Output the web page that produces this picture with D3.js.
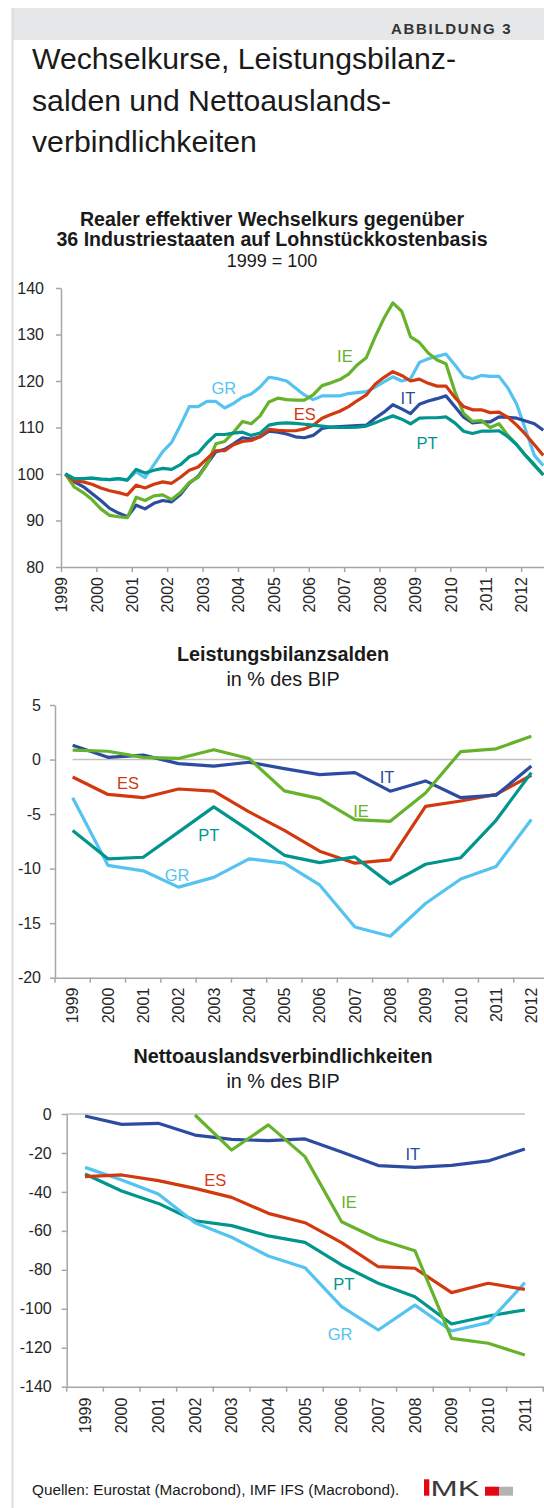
<!DOCTYPE html>
<html lang="de">
<head>
<meta charset="UTF-8">
<title>Abbildung 3</title>
<script src="https://d3js.org/d3.v7.min.js"></script>
<style>
    body { margin: 0; background: #fff; }
    svg { display: block; font-family: "Liberation Sans", Arial, sans-serif; }
    .achse path, .achse line { stroke: #a6a6a6; stroke-width: 1.5; }
    .achse text { font-size: 16px; fill: #262626; }
    .titel { font-size: 19.8px; font-weight: bold; fill: #1a1a1a; }
    .untertitel { font-size: 19.8px; fill: #1a1a1a; }
    .kuerzel { font-size: 16.5px; }
</style>
</head>
<body>
<svg width="544" height="1508"></svg>

<script>
    const laender = ["GR", "IE", "ES", "IT", "PT"];
    const farben = {GR: "#55c3f0", IE: "#67b22b", ES: "#d2390f", IT: "#2b4ca0", PT: "#00958d"};

    // --- Realer effektiver Wechselkurs, Quartale 1999Q1 - 2012Q3 (1999 = 100)
    const wk_quartale = d3.range(55).map(i => 1999 + (i + 0.5) / 4);
    const wk_jahre = d3.range(1999, 2013);
    const wk_ticks = [80, 90, 100, 110, 120, 130, 140];
    const wk_GR = [100, 99, 99, 99.1, 98.9, 98.8, 99, 98.7, 100.5, 99.2, 102, 104.8, 106.8, 110.5, 114.5, 114.5,
        115.6, 115.6, 114.2, 115.2, 116.5, 117.2, 118.7, 120.8,
        120.5, 120, 118.5, 117, 116, 116.8, 116.8, 116.8, 117.3, 117.5, 117.7, 118.7, 119.8, 120.9, 120, 120.5,
        124, 124.8, 125.3, 125.8, 123.5, 121, 120.5, 121.2, 121, 121, 118.5, 115, 109.5, 104, 101.8];
    const wk_IE = [100, 97.2, 96, 94.5, 92.5, 91.1, 90.8, 90.6, 95, 94.3, 95.3, 95.5, 94.5, 96, 98.2, 99.3,
        102, 106.5, 107, 109, 111.3, 110.8, 112.5, 115.5,
        116.3, 116, 115.9, 115.9, 117, 119, 119.6, 120.3, 121.5, 123.5, 125, 129.5, 133.5, 136.8, 135, 129.5,
        128.3, 126, 124.5, 123.7, 117.8, 113, 111.3, 111.5, 110, 110.8, 108.3, 106.3, 104, 101.8, 99.8];
    const wk_ES = [100, 98.5, 98.3, 97.8, 97, 96.4, 96, 95.5, 97.6, 97, 97.8, 98.3, 98, 99.3, 100.8, 101.5,
        103.3, 105, 105, 106.3, 107, 107.2, 108, 109.6,
        109.4, 109.3, 109.3, 109.7, 110.5, 112, 112.8, 113.5, 114.5, 115.8, 117, 119.3, 120.8, 122, 121.2, 120,
        120.4, 119.5, 118.9, 118.9, 116.5, 114.5, 113.8, 113.8, 113.2, 113.3, 112.2, 110.5, 108.5, 106.3, 104];
    const wk_IT = [100, 98.3, 97.3, 95.8, 94.3, 92.6, 91.6, 90.8, 93.3, 92.5, 93.7, 94.3, 94, 95.6, 98, 99.5,
        102.2, 104.8, 105.3, 106.5, 107.8, 107.5, 108, 109.2,
        109, 108.6, 108, 107.8, 108.3, 109.8, 110.1, 110.2, 110.3, 110.4, 110.5, 112, 113.3, 114.9, 114, 113,
        115, 115.7, 116.2, 116.8, 114.5, 112.2, 111, 111.2, 111.2, 112.3, 112.2, 112, 111.4, 110.8, 109.4];
    const wk_PT = [100, 99, 99, 99.1, 98.9, 98.8, 99, 98.7, 101, 100.2, 100.8, 101.2, 101, 102, 103.7, 104.5,
        106.7, 108.5, 108.5, 108.8, 109, 108.3, 108.8, 110.5,
        110.9, 111, 110.9, 110.7, 110.5, 110.3, 110.1, 110, 110, 110.1, 110.3, 111, 111.8, 112.5, 111.8, 110.8,
        112, 112.1, 112.1, 112.3, 111, 109.2, 108.7, 109.2, 109.2, 109.3, 108, 106.3, 104, 102, 99.8];
    // Beschriftung der Linien: [Land, Jahr, Wert]
    const wk_beschriftung = [["GR", 2003.6, 118.5], ["IE", 2007.02, 125.4], ["ES", 2005.89, 112.9],
        ["IT", 2008.8, 116.3], ["PT", 2009.34, 106.7]];

    // --- Leistungsbilanzsalden in % des BIP, 1999 - 2012
    const lb_jahre = d3.range(1999, 2013);
    const lb_ticks = [5, 0, -5, -10, -15, -20];
    const lb_GR = [-3.5, -9.7, -10.2, -11.7, -10.8, -9.1, -9.5, -11.5, -15.35, -16.2, -13.2, -10.95, -9.8, -5.5];
    const lb_IE = [0.86, 0.76, 0.2, 0.1, 0.9, 0.1, -2.87, -3.58, -5.5, -5.66, -3.06, 0.73, 0.98, 2.14];
    const lb_ES = [-1.6, -3.2, -3.5, -2.7, -2.9, -4.8, -6.5, -8.4, -9.5, -9.2, -4.3, -3.8, -3.2, -1.44];
    const lb_IT = [1.3, 0.2, 0.4, -0.37, -0.6, -0.25, -0.83, -1.38, -1.2, -2.9, -1.96, -3.5, -3.27, -0.6];
    const lb_PT = [-6.5, -9.1, -8.96, -6.65, -4.34, -6.5, -8.78, -9.45, -8.93, -11.4, -9.6, -9.0, -5.57, -1.2];
    const lb_beschriftung = [["ES", 2000.57, -2.17], ["PT", 2002.86, -6.94], ["GR", 2001.96, -10.6],
        ["IT", 2007.91, -1.62], ["IE", 2007.17, -4.74]];

    // --- Nettoauslandsverbindlichkeiten in % des BIP, 1999 - 2011
    const na_jahre = d3.range(1999, 2012);
    const na_ticks = [0, -20, -40, -60, -80, -100, -120, -140];
    const na_GR = [-27.4, -33.9, -41.1, -55.8, -63.3, -72.9, -78.9, -98.9, -110.9, -98.1, -111.4, -107.1, -86.6];
    const na_IE = [null, null, null, -0.5, -18.5, -5.6, -21.9, -55.3, -64.3, -70.2, -115.2, -117.7, -123.7];
    const na_ES = [-32.2, -31.3, -34.2, -38.2, -42.8, -51, -55.8, -66, -78.4, -79.2, -91.7, -86.9, -90];
    const na_IT = [-1, -5.3, -4.8, -10.8, -13, -13.7, -12.8, -19.5, -26.5, -27.4, -26.4, -24.1, -18];
    const na_PT = [-30.8, -39.5, -45.9, -54.8, -57.3, -62.6, -65.9, -77.5, -86.9, -93.8, -107.8, -103.7, -100.6];
    const na_beschriftung = [["ES", 2002.55, -33.9], ["IT", 2007.94, -20.5], ["IE", 2006.2, -45],
        ["PT", 2006.06, -87.3], ["GR", 2005.96, -112.9]];

    const svg = d3.select("svg");

    // Rahmen: Kopfleiste und linke Linie
    svg.append("rect").attr("x", 12).attr("y", 8).attr("width", 532).attr("height", 32).attr("fill", "#e6e7e8");
    svg.append("line").attr("x1", 12.5).attr("y1", 8).attr("x2", 12.5).attr("y2", 1508)
        .attr("stroke", "#dedede").attr("stroke-width", 2.2);

    svg.append("text").text("ABBILDUNG 3")
        .attr("x", 391).attr("y", 34)
        .style("font-size", "15px").style("font-weight", "bold").style("letter-spacing", "1.7px")
        .attr("fill", "#333");

    ["Wechselkurse, Leistungsbilanz-", "salden und Nettoauslands-", "verbindlichkeiten"].forEach(function (t, i) {
        svg.append("text").text(t)
            .attr("x", 32).attr("y", 69 + i * 41.5)
            .style("font-size", "30.2px").attr("fill", "#1a1a1a");
    });

    function titel(zeilen, cx) {
        zeilen.forEach(function (z) {
            const t = svg.append("text").text(z[0])
                .attr("class", z[1] ? "titel" : "untertitel")
                .attr("x", cx).attr("y", z[2])
                .attr("text-anchor", "middle");
            if (z[3]) t.style("font-size", z[3] + "px");
        });
    }

    function linien(g, xs, serien, fx, y, reihenfolge) {
        const line = d3.line()
            .defined(d => d[1] !== null)
            .x(d => fx(d[0]))
            .y(d => y(d[1]));
        reihenfolge.forEach(function (land) {
            g.append("path")
                .datum(xs.map((v, i) => [v, serien[land][i]]))
                .attr("d", line)
                .attr("fill", "none")
                .attr("stroke", farben[land])
                .attr("stroke-width", 3.2)
                .attr("stroke-linejoin", "round");
        });
    }

    function beschriften(g, liste, fx, y) {
        g.selectAll(null)
            .data(liste)
            .enter()
            .append("text")
            .attr("class", "kuerzel")
            .text(d => d[0])
            .attr("x", d => fx(d[1]))
            .attr("y", d => y(d[2]))
            .attr("dy", "0.36em")
            .attr("text-anchor", "middle")
            .attr("fill", d => farben[d[0]]);
    }

    // ================= Diagramm 1 =================
    titel([["Realer effektiver Wechselkurs gegenüber", true, 226, 19.6],
        ["36 Industriestaaten auf Lohnstückkostenbasis", true, 245.5, 19.6],
        ["1999 = 100", false, 266.5, 18]], 272);

    const x1 = d3.scaleLinear().domain([1999, 2012.75]).range([61, 547.7]);
    const y1 = d3.scaleLinear().domain([80, 140]).range([567, 288]);
    const g1 = svg.append("g");

    g1.append("g").attr("class", "achse")
        .attr("transform", "translate(61,0)")
        .call(d3.axisLeft(y1).tickValues(wk_ticks).tickSize(5).tickPadding(12).tickSizeOuter(0));

    g1.append("g").attr("class", "achse")
        .attr("transform", "translate(0,567)")
        .call(d3.axisBottom(x1).tickValues(wk_jahre).tickFormat(d => d).tickSize(5).tickSizeOuter(0))
        .selectAll("text")
        .attr("transform", "rotate(-90)")
        .attr("x", -10).attr("y", 0).attr("dy", "0.36em")
        .attr("text-anchor", "end");

    linien(g1, wk_quartale, {GR: wk_GR, IE: wk_IE, ES: wk_ES, IT: wk_IT, PT: wk_PT}, x1, y1,
        ["GR", "IT", "IE", "ES", "PT"]);
    beschriften(g1, wk_beschriftung, x1, y1);

    // ================= Diagramm 2 =================
    titel([["Leistungsbilanzsalden", true, 661], ["in % des BIP", false, 686]], 283);

    const x2 = d3.scaleBand().domain(lb_jahre).range([55, 549]);
    const x2m = d3.scaleLinear().domain([1999, 2012])
        .range([x2(1999) + x2.bandwidth() / 2, x2(2012) + x2.bandwidth() / 2]);
    const y2 = d3.scaleLinear().domain([-20, 5]).range([977.7, 705]);
    const g2 = svg.append("g");

    g2.append("line")
        .attr("x1", x2m(1999)).attr("x2", x2m(2012))
        .attr("y1", y2(0)).attr("y2", y2(0))
        .attr("stroke", "#c0c0c0").attr("stroke-width", 1.5);

    g2.append("g").attr("class", "achse")
        .attr("transform", "translate(55,0)")
        .call(d3.axisLeft(y2).tickValues(lb_ticks).tickFormat(d => String(d))
            .tickSize(5).tickPadding(9).tickSizeOuter(0));

    const ax2 = g2.append("g").attr("class", "achse")
        .attr("transform", "translate(0,977.7)")
        .call(d3.axisBottom(x2).tickSize(0).tickSizeOuter(0));
    ax2.selectAll("text")
        .attr("transform", "rotate(-90)")
        .attr("x", -10).attr("y", 0).attr("dy", "0.36em")
        .attr("text-anchor", "end");
    ax2.selectAll(".grenze")
        .data(lb_jahre.map(d => x2(d)).concat([x2.range()[1]]))
        .enter().append("line")
        .attr("x1", d => d).attr("x2", d => d)
        .attr("y1", 0).attr("y2", 5);

    linien(g2, lb_jahre, {GR: lb_GR, IE: lb_IE, ES: lb_ES, IT: lb_IT, PT: lb_PT}, x2m, y2,
        ["GR", "ES", "IT", "IE", "PT"]);
    beschriften(g2, lb_beschriftung, x2m, y2);

    // ================= Diagramm 3 =================
    titel([["Nettoauslandsverbindlichkeiten", true, 1063], ["in % des BIP", false, 1088]], 283);

    const x3 = d3.scaleBand().domain(na_jahre).range([66.7, 543.2]);
    const x3m = d3.scaleLinear().domain([1999, 2011])
        .range([x3(1999) + x3.bandwidth() / 2, x3(2011) + x3.bandwidth() / 2]);
    const y3 = d3.scaleLinear().domain([-140, 0]).range([1386.7, 1114]);
    const g3 = svg.append("g");

    g3.append("line")
        .attr("x1", 66.7).attr("x2", x3m(2011))
        .attr("y1", y3(0)).attr("y2", y3(0))
        .attr("stroke", "#c0c0c0").attr("stroke-width", 1.5);

    g3.append("g").attr("class", "achse")
        .attr("transform", "translate(66.7,0)")
        .call(d3.axisLeft(y3).tickValues(na_ticks).tickFormat(d => String(d))
            .tickSize(5).tickPadding(10).tickSizeOuter(0));

    const ax3 = g3.append("g").attr("class", "achse")
        .attr("transform", "translate(0,1386.7)")
        .call(d3.axisBottom(x3).tickSize(0).tickSizeOuter(0));
    ax3.selectAll("text")
        .attr("transform", "rotate(-90)")
        .attr("x", -11).attr("y", 0).attr("dy", "0.36em")
        .attr("text-anchor", "end");
    ax3.selectAll(".grenze")
        .data(na_jahre.map(d => x3(d)).concat([x3.range()[1]]))
        .enter().append("line")
        .attr("x1", d => d).attr("x2", d => d)
        .attr("y1", 0).attr("y2", 5);

    linien(g3, na_jahre, {GR: na_GR, IE: na_IE, ES: na_ES, IT: na_IT, PT: na_PT}, x3m, y3,
        ["PT", "GR", "ES", "IT", "IE"]);
    beschriften(g3, na_beschriftung, x3m, y3);

    // ================= Fuss =================
    svg.append("text").text("Quellen: Eurostat (Macrobond), IMF IFS (Macrobond).")
        .attr("x", 32).attr("y", 1495)
        .style("font-size", "15.3px").attr("fill", "#1a1a1a");

    // IMK-Logo
    svg.append("rect").attr("x", 424).attr("y", 1479.3).attr("width", 5.3).attr("height", 16.4).attr("fill", "#e30613");
    svg.append("text").text("MK")
        .attr("x", 430.5).attr("y", 1495.7)
        .attr("textLength", 49).attr("lengthAdjust", "spacingAndGlyphs")
        .style("font-size", "22.5px").attr("fill", "#3a3a3a");
    svg.append("rect").attr("x", 485).attr("y", 1486.7).attr("width", 14).attr("height", 9).attr("fill", "#e30613");
    svg.append("rect").attr("x", 499).attr("y", 1486.7).attr("width", 14).attr("height", 9).attr("fill", "#b3b3b3");
</script>
</body>
</html>
